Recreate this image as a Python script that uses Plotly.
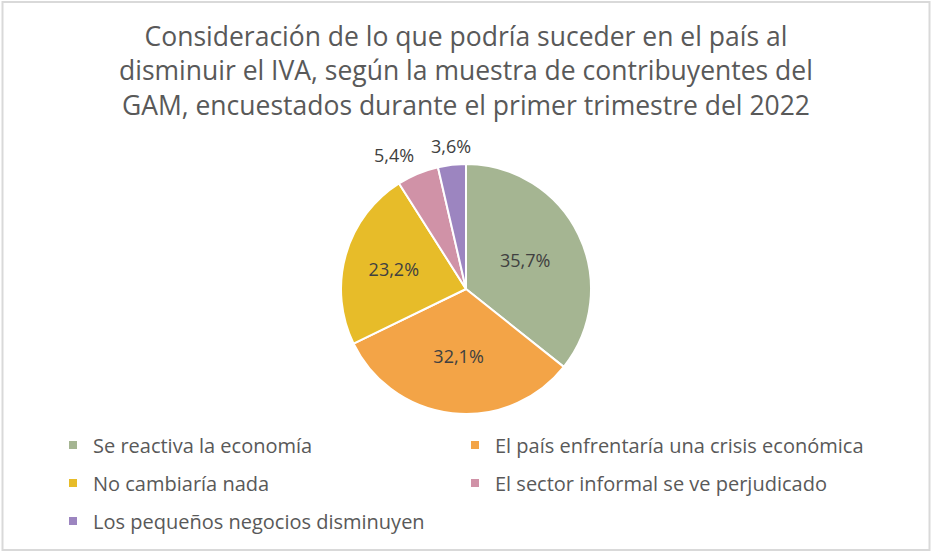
import math
import plotly.graph_objects as go

categories = [
    "Se reactiva la economía",
    "El país enfrentaría una crisis económica",
    "No cambiaría nada",
    "El sector informal se ve perjudicado",
    "Los pequeños negocios disminuyen",
]
values = [35.7, 32.1, 23.2, 5.4, 3.6]
colors = ["#A5B592", "#F3A447", "#E7BC29", "#D092A7", "#9C85C0"]
inside = [True, True, True, False, False]

title_lines = [
    "Consideración de lo que podría suceder en el país al",
    "disminuir el IVA, según la muestra de contribuyentes del",
    "GAM, encuestados durante el primer trimestre del 2022",
]

W, H = 932, 552
FONT = "Open Sans"
LABEL_COLOR = "#404040"
TEXT_COLOR = "#595959"

fig = go.Figure()

# pie centre (466, 289) radius 125 px
cx, cy, r = 466, 289, 125
fig.add_trace(go.Pie(
    labels=categories,
    values=values,
    sort=False,
    direction="clockwise",
    rotation=0,
    marker=dict(colors=colors, line=dict(color="white", width=2)),
    texttemplate="%{percent:.1%}",
    textposition=["inside" if f else "none" for f in inside],
    textfont=dict(family=FONT, size=18, color=LABEL_COLOR),
    insidetextorientation="horizontal",
    domain=dict(x=[(cx - r) / W, (cx + r) / W], y=[(H - cy - r) / H, (H - cy + r) / H]),
    showlegend=False,
    hoverinfo="label+percent",
))

# outside labels for the small slices, placed at each slice's mid-angle
annotations = []
total = sum(values)
cum = 0.0
for v, f in zip(values, inside):
    mid = (cum + v / 2) / total * 2 * math.pi  # clockwise from 12 o'clock
    cum += v
    if f:
        continue
    s, c = math.sin(mid), math.cos(mid)
    R = r + 5
    px, py = cx + R * s, cy - R * c
    xa = "center" if abs(s) < 0.2 else ("left" if s > 0 else "right")
    ya = "bottom" if c > 0 else "top"
    annotations.append(dict(
        x=px / W, y=(H - py) / H, xref="paper", yref="paper",
        xanchor=xa, yanchor=ya, showarrow=False,
        text=f"{v:.1f}%".replace(".", ","),
        font=dict(family=FONT, size=18, color=LABEL_COLOR),
    ))

# title, three centred lines
annotations.append(dict(
    x=0.5, y=(H - 70.5) / H, xref="paper", yref="paper",
    xanchor="center", yanchor="middle", showarrow=False,
    text="<br>".join(title_lines),
    font=dict(family=FONT, size=26.5, color=TEXT_COLOR),
))

# legend entries (dummy traces so each entry can be placed like the original)
legend_pos = [(53, 445), (455, 445), (53, 483), (455, 483), (53, 521)]
legend_names = ["legend", "legend2", "legend3", "legend4", "legend5"]
for i, (cat, col) in enumerate(zip(categories, colors)):
    fig.add_trace(go.Scatter(
        x=[None], y=[None], mode="markers", name=cat,
        marker=dict(symbol="square", size=8, color=col),
        showlegend=True, legend=legend_names[i],
    ))

legend_layout = {}
for i, (lx, ly) in enumerate(legend_pos):
    legend_layout[legend_names[i]] = dict(
        x=lx / W, y=(H - ly) / H, xanchor="left", yanchor="middle",
        orientation="h", bgcolor="rgba(0,0,0,0)",
        font=dict(family=FONT, size=20, color=TEXT_COLOR),
    )

fig.update_layout(
    width=W, height=H,
    margin=dict(l=0, r=0, t=0, b=0),
    paper_bgcolor="white", plot_bgcolor="white",
    separators=",.",
    xaxis=dict(visible=False), yaxis=dict(visible=False),
    annotations=annotations,
    shapes=[dict(type="rect", xref="paper", yref="paper",
                 x0=2.5 / W, x1=1 - 2.5 / W, y0=2 / H, y1=1 - 2 / H,
                 line=dict(color="#d9d9d9", width=2), layer="below")],
    **legend_layout,
)

fig.write_html("out.html", config={"displayModeBar": False},
               post_script="document.body.style.margin='0';")
